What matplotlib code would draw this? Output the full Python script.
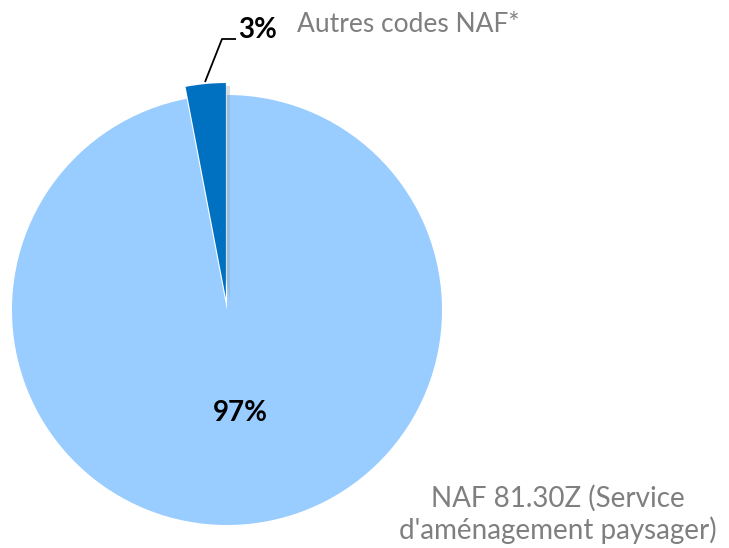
import matplotlib
matplotlib.use("Agg")
import matplotlib.pyplot as plt
from matplotlib.patches import Shadow

labels = ["NAF 81.30Z (Service\nd'aménagement paysager)", "Autres codes NAF*"]
values = [97, 3]
pct_labels = ["97%", "3%"]
colors = ["#99CCFF", "#0070C0"]

plt.rcParams['font.family'] = ['Lato', 'DejaVu Sans']

W, H = 729, 548
fig = plt.figure(figsize=(W / 100, H / 100), dpi=100)
ax = fig.add_axes([0, 0, 1, 1])

cx, cy, r = 227, H - 310, 215
wedges, _ = ax.pie(values, colors=colors, startangle=90, counterclock=False,
                   center=(cx, cy), radius=r, explode=[0, 12],
                   wedgeprops=dict(linewidth=0), frame=True)
ax.set_xlim(0, W)
ax.set_ylim(0, H)
ax.set_aspect('equal')
ax.axis('off')
wedges[0].set_zorder(1)
wedges[1].set_zorder(3)
# shadow for the small slice
sh = Shadow(wedges[1], 3, -2, alpha=0.35)
sh.set_facecolor('#8a9fb5')
sh.set_zorder(2)
ax.add_patch(sh)

# 97% label
ax.text(240, H - 413, pct_labels[0], ha='center', va='center', fontsize=20,
        fontweight='bold', color='black')

# leader line for 3%
ax.plot([205, 222, 236], [H - 82, H - 39, H - 39], color='black', lw=1.3,
        solid_capstyle='butt', zorder=4)
ax.text(238, H - 30, pct_labels[1], ha='left', va='center', fontsize=20,
        fontweight='bold', color='black')

ax.text(297, H - 24, labels[1], ha='left', va='center', fontsize=19,
        color='#7F7F7F')
ax.text(558, H - 514, labels[0], ha='center', va='center', fontsize=20,
        color='#7F7F7F', linespacing=1.2)

fig.savefig("out.png", dpi=100)
